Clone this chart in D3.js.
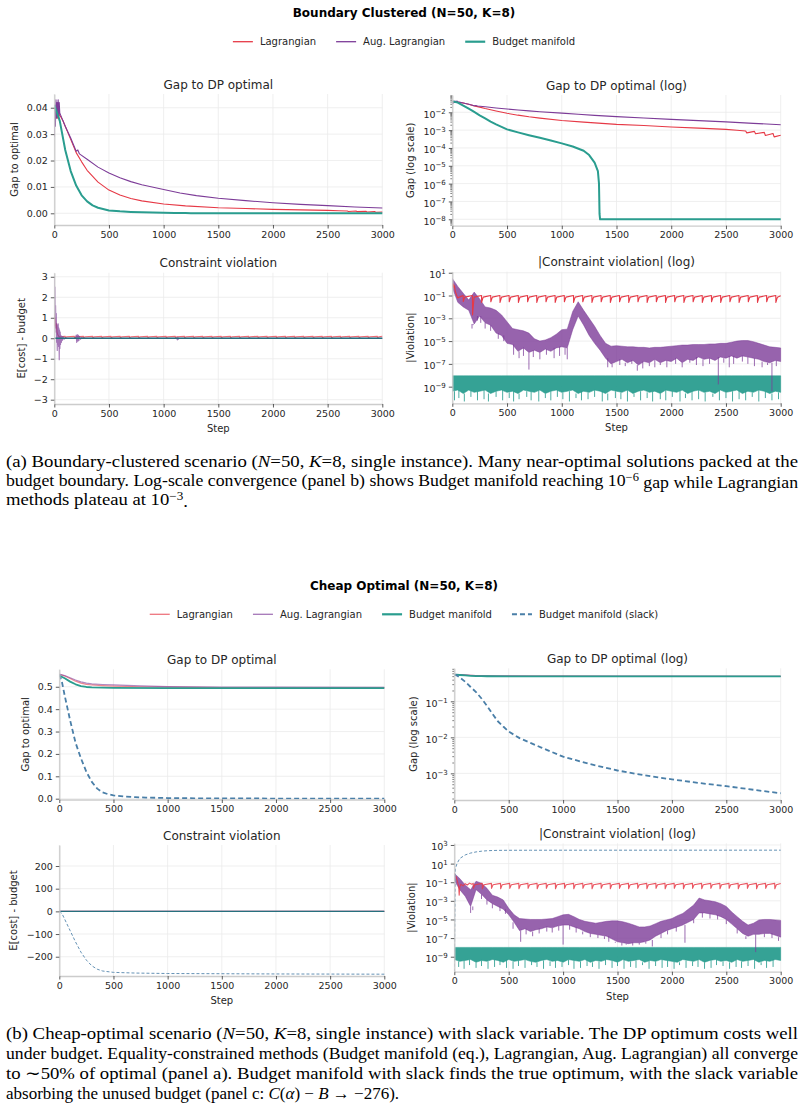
<!DOCTYPE html>
<html><head><meta charset="utf-8">
<script src="https://cdn.jsdelivr.net/npm/d3@7/dist/d3.min.js"></script>
<style>
html,body{margin:0;padding:0;background:#fff;}
svg{display:block;}
</style></head>
<body>
<svg id="chart" width="805" height="1110"></svg>
<script>
// ---------------- DATA ----------------
const xTicks = [0, 500, 1000, 1500, 2000, 2500, 3000];

// Figure 1: Boundary Clustered
const bcLagGapSteps = [0,10,20,30,40,50,60,80,100,150,200,250,300,400,500,600,700,800,1000,1200,1500,1750,2000,2250,2500,2600,2680,2690,2760,2770,2850,2860,2930,2940,3000];
const bcLagGap = [0.040,0.037,0.039,0.036,0.038,0.037,0.0365,0.035,0.033,0.028,0.023,0.0195,0.0163,0.0118,0.0088,0.0069,0.0056,0.0047,0.0035,0.0028,0.0021,0.0018,0.0015,0.0013,0.0011,0.00098,0.0009,0.0007,0.00085,0.00062,0.00075,0.0005,0.00065,0.00042,0.00052];
const bcAugGapSteps = [0,5,10,15,20,25,30,35,40,45,50,60,100,150,200,215,230,300,400,500,600,700,800,1000,1150,1300,1500,1750,2000,2250,2500,2750,3000];
const bcAugGap = [0.029,0.041,0.033,0.043,0.036,0.042,0.037,0.043,0.036,0.042,0.038,0.037,0.033,0.0285,0.0235,0.024,0.0225,0.0205,0.0175,0.0153,0.0135,0.012,0.0108,0.009,0.0077,0.0067,0.0057,0.0048,0.004,0.0034,0.0029,0.0024,0.002];
const bcBmGapSteps = [0,50,100,150,200,250,300,350,400,500,600,700,800,900,1000,1100,1200,1250,1300,1330,1340,1345,1350,3000];
const bcBmGap = [0.041,0.035,0.024,0.016,0.0105,0.0068,0.0045,0.003,0.0021,0.0011,0.00075,0.00052,0.00037,0.00026,0.00018,0.00012,0.00007,0.00004,0.000015,0.000005,0.000001,0.00000002,0.00000001,0.00000001];

const bcAugViolSteps = [0,3,6,9,12,15,18,21,24,27,30,33,36,39,42,45,48,51,54,57,60,65,70,75,80,90,100,120,195,200,205,210,215,220,225,230,240,250,270,1120,1125,1130,1135,1140,3000];
const bcAugViol = [3.0,1.0,2.5,0.5,1.6,0.3,1.2,-0.2,0.7,-0.6,0.6,-0.3,0.7,-0.4,0.5,-1.05,0.4,-0.5,0.3,-0.3,0.15,-0.2,0.1,-0.1,0.08,-0.05,0.02,0,0,0.15,-0.2,0.18,-0.15,0.15,-0.12,0.1,-0.05,0.03,0,0,-0.08,0.05,-0.05,0,0];
const bcBmViolSteps = [0, 3000];
const bcBmViol = [0, 0];

const bcLagViolEarlySteps = [0,5,10,15,20,25,30,40,50,60,75];
const bcLagViolEarly = [1.2,0.6,1.0,0.5,0.7,0.3,0.2,0.1,0.06,0.07,0.08];
const bcLagDips = [100,185,268,352,436,520,604,688,772,856,940,1024,1108,1192,1276,1360,1444,1528,1612,1696,1780,1864,1948,2032,2116,2200,2284,2368,2452,2536,2620,2704,2788,2872,2956];
const bcLagDipLow = [0.03,0.002,0.025,0.028,0.025,0.028,0.025,0.028,0.025,0.028,0.025,0.028,0.025,0.028,0.025,0.028,0.025,0.028,0.025,0.028,0.025,0.028,0.025,0.028,0.025,0.028,0.025,0.028,0.025,0.028,0.025,0.028,0.025,0.028,0.025];
const bcLagViolLevel = 0.1;

// |violation| bands, log10 values sampled every 50 steps (0..3000)
const bcAugViolHiLog = [0.5,-0.2,-0.8,-1.4,-0.7,-1.3,-2.0,-2.1,-2.3,-2.7,
  -3.3,-3.9,-4.0,-4.1,-4.3,-4.8,-5.0,-4.9,-4.7,-4.4,
  -4.0,-3.95,-2.4,-1.55,-2.3,-3.0,-3.7,-4.5,-5.2,-5.45,
  -5.4,-5.45,-5.5,-5.5,-5.55,-5.55,-5.6,-5.55,-5.55,-5.5,
  -5.45,-5.4,-5.35,-5.35,-5.3,-5.3,-5.3,-5.25,-5.25,-5.2,
  -5.2,-5.1,-5.0,-4.95,-4.95,-5.05,-5.2,-5.35,-5.5,-5.55,
  -5.6];
const bcAugViolLoLog = [-0.3,-1.6,-2.0,-2.3,-3.5,-2.8,-3.4,-3.6,-4.3,-4.5,
  -5.2,-5.3,-5.9,-5.6,-6.0,-5.8,-6.0,-5.7,-5.9,-5.6,
  -5.5,-5.6,-4.0,-2.8,-3.6,-4.5,-5.2,-5.8,-6.5,-7.0,
  -6.8,-6.6,-6.9,-6.7,-7.1,-6.8,-6.9,-6.6,-6.9,-6.7,
  -6.8,-6.5,-6.9,-6.6,-6.7,-6.4,-6.6,-6.5,-6.7,-6.4,
  -6.5,-6.3,-6.5,-6.3,-6.4,-6.5,-6.6,-6.8,-6.9,-6.7,
  -6.8];
const bcAugSpikeSteps = [180,190,230,260,300,350,420,470,560,610,650,700,740,800,860,930,980,1030,1050,1420,1460,1530,1580,1640,1690,1740,1800,1850,1900,1960,2040,2100,2170,2230,2290,2350,2430,2480,2530,2570,2650,2700,2760,2830,2880,2920,2960];
const bcAugSpikeLog = [-3.9,-3.6,-3.2,-3.4,-3.9,-4.1,-4.8,-5.0,-6.2,-6.5,-6.3,-7.5,-6.4,-6.6,-6.2,-6.5,-6.3,-6.2,-6.6,-7.3,-7.3,-7.1,-7.2,-7.0,-7.6,-7.4,-7.2,-7.3,-7.1,-7.3,-7.0,-7.3,-6.9,-7.1,-7.2,-7.0,-8.8,-6.9,-7.3,-7.0,-6.8,-7.0,-7.2,-7.3,-7.1,-9.4,-7.2];
const bcBmViolHiLog = -8.05;
const bcBmViolLoLog = [-9.4,-9.3,-9.6,-9.3,-9.5,-9.4,-9.3,-9.6,-9.4,-9.3,
  -9.5,-9.4,-9.6,-9.3,-9.4,-9.5,-9.3,-9.6,-9.4,-9.3,
  -9.5,-9.4,-9.3,-9.6,-9.4,-9.5,-9.3,-9.4,-9.6,-9.3,
  -9.4,-9.5,-9.3,-9.6,-9.4,-9.3,-9.5,-9.4,-9.6,-9.3,
  -9.4,-9.5,-9.3,-9.6,-9.4,-9.3,-9.5,-9.4,-9.6,-9.3,
  -9.5,-9.4,-9.3,-9.6,-9.4,-9.5,-9.3,-9.4,-9.6,-9.4,
  -9.5];
const bcBmSpikeSteps = [20,60,110,170,230,290,330,400,460,520,560,610,680,720,790,850,900,960,1010,1070,1130,1180,1240,1300,1370,1420,1490,1540,1600,1660,1720,1780,1830,1900,1950,2010,2080,2130,2190,2250,2310,2380,2440,2500,2560,2620,2680,2740,2800,2860,2920,2980];
const bcBmSpikeLog = [-10.2,-10.0,-10.3,-9.9,-10.2,-10.1,-10.3,-9.9,-10.2,-10.0,
  -10.3,-10.1,-9.9,-10.2,-10.3,-10.0,-10.2,-9.9,-10.1,-10.3,
  -10.0,-10.2,-10.1,-9.9,-10.3,-10.2,-10.0,-10.1,-10.3,-9.9,
  -10.2,-10.0,-10.3,-10.1,-10.2,-9.9,-10.3,-10.0,-10.2,-10.1,
  -10.3,-9.9,-10.2,-10.0,-10.3,-10.1,-10.2,-9.9,-10.3,-10.0,
  -10.2,-10.1];

// Figure 2: Cheap Optimal
const coGapSteps = [0,50,100,150,200,250,300,400,500,750,1000,1500,2000,3000];
const coLagGap = [0.555,0.548,0.537,0.525,0.516,0.511,0.508,0.505,0.503,0.5,0.498,0.496,0.495,0.495];
const coAugGap = [0.557,0.55,0.54,0.53,0.522,0.516,0.513,0.51,0.508,0.504,0.501,0.499,0.498,0.497];
const coBmGapSteps = [0,50,100,150,200,250,300,500,1000,3000];
const coBmGap = [0.55,0.538,0.523,0.511,0.503,0.499,0.497,0.495,0.494,0.494];
const coSlackGapSteps = [0,25,50,100,150,200,250,300,350,400,450,500,600,700,800,1000,1250,1500,1750,2000,2250,2500,2750,3000];
const coSlackGap = [0.555,0.52,0.46,0.35,0.25,0.18,0.12,0.075,0.045,0.028,0.02,0.0145,0.0095,0.007,0.0052,0.0029,0.0018,0.0012,0.00088,0.00068,0.00054,0.00044,0.00035,0.00028];

const coEqViolSteps = [0, 3000];
const coLagViol = [0, 0];
const coAugViol = [0, 0];
const coBmViol = [0, 0];
const coSlackViolSteps = [0,10,25,50,100,150,200,250,300,350,400,500,700,1000,2000,3000];
const coSlackViol = [0,-3,-10,-35,-85,-135,-180,-215,-240,-255,-263,-269,-272,-274,-276,-277];

const coLagViolEarlySteps = [0,10,20,30,40,45,50,60,80,100,120,140,160];
const coLagViolEarly = [0.9,0.5,0.3,0.1,0.04,0.004,0.03,0.06,0.04,0.07,0.05,0.08,0.06];
const coLagDips = [175,258,342,426,510,594,678,762,846,930,1014,1098,1182,1266,1350,1434,1518,1602,1686,1770,1854,1938,2022,2106,2190,2274,2358,2442,2526,2610,2694,2778,2862,2946];
const coLagDipLow = [0.022,0.02,0.022,0.02,0.022,0.02,0.022,0.02,0.022,0.02,0.022,0.02,0.022,0.02,0.022,0.02,0.022,0.02,0.022,0.02,0.022,0.02,0.022,0.02,0.022,0.02,0.022,0.02,0.022,0.02,0.022,0.02,0.022,0.02];
const coLagViolLevel = 0.075;

const coAugViolHiLog = [-0.05,-0.6,-1.3,-1.8,-0.9,-1.1,-1.65,-2.4,-2.6,-2.9,
  -3.8,-4.5,-4.9,-4.95,-5.0,-5.0,-5.0,-4.95,-4.9,-4.7,
  -4.5,-4.45,-4.7,-5.0,-5.2,-5.3,-5.4,-5.3,-5.2,-5.15,
  -5.15,-5.25,-5.4,-5.6,-5.8,-5.8,-5.7,-5.45,-5.2,-5.05,
  -4.9,-4.6,-4.35,-3.9,-3.45,-2.7,-2.9,-3.0,-3.1,-3.3,
  -3.6,-4.2,-4.7,-5.2,-5.6,-5.4,-5.05,-5.0,-5.0,-5.05,
  -5.1];
const coAugViolLoLog = [-0.8,-1.8,-2.5,-3.6,-1.8,-2.3,-2.9,-3.3,-3.6,-3.9,
  -4.5,-5.3,-6.2,-6.0,-6.3,-6.1,-6.0,-5.8,-5.9,-5.7,
  -5.6,-5.6,-5.8,-6.0,-6.3,-6.5,-6.6,-6.7,-6.8,-7.1,
  -7.4,-7.5,-7.6,-7.5,-7.5,-7.4,-7.2,-6.8,-6.5,-6.2,
  -6.0,-5.8,-5.6,-5.3,-5.0,-4.3,-4.3,-4.4,-4.5,-4.7,
  -5.0,-5.5,-6.0,-6.5,-6.8,-6.6,-6.6,-6.5,-6.5,-6.7,
  -6.9];
const coAugSpikeSteps = [150,170,250,300,350,420,470,540,610,660,720,780,850,900,960,1000,1060,1120,1180,1250,1320,1380,1420,1480,1540,1580,1640,1700,1760,1820,1900,1960,2040,2120,2200,2280,2350,2420,2500,2600,2680,2770,2850,2920,2980];
const coAugSpikeLog = [-4.3,-4.0,-2.8,-3.4,-3.8,-4.1,-4.4,-6.0,-7.4,-6.6,-6.8,-6.5,-6.3,-6.4,-6.2,-7.7,-6.1,-6.4,-6.6,-6.9,-7.0,-7.1,-7.4,-7.5,-7.8,-7.7,-7.8,-7.7,-7.6,-7.9,-7.0,-6.6,-6.3,-7.5,-5.4,-4.8,-4.9,-5.0,-5.5,-6.5,-7.1,-8.5,-6.9,-7.0,-7.3];
const coBmViolHiLog = -8.0;
const coBmViolLoLog = [-9.3,-9.5,-9.4,-9.3,-9.6,-9.4,-9.5,-9.3,-9.4,-9.6,
  -9.3,-9.5,-9.4,-9.3,-9.5,-9.6,-9.4,-9.3,-9.5,-9.4,
  -9.6,-9.3,-9.4,-9.5,-9.3,-9.6,-9.4,-9.5,-9.3,-9.4,
  -9.6,-9.3,-9.5,-9.4,-9.3,-9.6,-9.4,-9.5,-9.3,-9.4,
  -9.5,-9.6,-9.3,-9.4,-9.5,-9.3,-9.6,-9.4,-9.3,-9.5,
  -9.4,-9.6,-9.3,-9.5,-9.4,-9.3,-9.6,-9.4,-9.5,-9.3,
  -9.4];
const coBmSpikeSteps = [40,90,140,200,250,310,370,420,480,540,590,650,710,760,820,880,930,990,1050,1100,1160,1220,1270,1330,1390,1450,1500,1560,1620,1670,1730,1790,1850,1910,1960,2020,2070,2130,2190,2240,2300,2360,2410,2470,2530,2590,2640,2700,2760,2820,2870,2930];
const coBmSpikeLog = [-10.1,-10.3,-9.9,-10.2,-10.0,-10.3,-10.1,-9.9,-10.2,-10.3,
  -10.0,-10.2,-9.9,-10.1,-10.3,-10.0,-10.2,-10.1,-9.9,-10.3,
  -10.2,-10.0,-10.1,-10.3,-9.9,-10.2,-10.0,-10.3,-10.1,-10.2,
  -9.9,-10.3,-10.0,-10.2,-10.1,-10.3,-9.9,-10.2,-10.0,-10.1,
  -10.3,-10.2,-9.9,-10.0,-10.3,-10.1,-10.2,-10.0,-10.3,-9.9,
  -10.2,-10.1];

const fig1Title = "Boundary Clustered (N=50, K=8)";
const fig2Title = "Cheap Optimal (N=50, K=8)";
const fig1Legend = ["Lagrangian", "Aug. Lagrangian", "Budget manifold"];
const fig2Legend = ["Lagrangian", "Aug. Lagrangian", "Budget manifold", "Budget manifold (slack)"];

// ---------------- STYLE ----------------
const LAG = "#e63946", AUG = "#7d3c98", BM = "#2a9d8f", SLACK = "#4a7fa8";
const FONT = "'DejaVu Sans', sans-serif";
const SERIF = "'Liberation Serif', 'Times New Roman', serif";
const MINUS = "\u2212";
const svg = d3.select("#chart");
const defs = svg.append("defs");
let clipN = 0;
const bandSteps = d3.range(0, 3001, 50);

function pts(steps, vals) { return steps.map((s, i) => ({ s, v: vals[i] })); }
function signed(fmt) { return d => (d < 0 ? MINUS : "") + d3.format(fmt)(Math.abs(d)); }

function makePanel(o) {
  const x = d3.scaleLinear().domain([0, 3000]).range([o.x0, o.x1]);
  const y = (o.log ? d3.scaleLog() : d3.scaleLinear()).domain(o.domain).range([o.y1, o.y0]);
  if (o.log) y.clamp(true);
  const g = svg.append("g");
  g.append("g").selectAll("line").data(xTicks).join("line")
    .attr("x1", d => x(d)).attr("x2", d => x(d)).attr("y1", o.y0).attr("y2", o.y1)
    .attr("stroke", "#ebebeb").attr("stroke-width", 0.8);
  g.append("g").selectAll("line").data(o.yTicks).join("line")
    .attr("x1", o.x0).attr("x2", o.x1).attr("y1", d => y(d)).attr("y2", d => y(d))
    .attr("stroke", "#ebebeb").attr("stroke-width", 0.8);
  const id = "clip" + (clipN++);
  defs.append("clipPath").attr("id", id).append("rect")
    .attr("x", o.x0).attr("y", o.y0 - 1).attr("width", o.x1 - o.x0 + 1).attr("height", o.y1 - o.y0 + 1);
  const plot = g.append("g").attr("clip-path", `url(#${id})`);
  return { x, y, g, plot, o };
}

function finishPanel(p) {
  const { x, y, g, o } = p;
  if (o.minor) {
    g.append("g").attr("transform", `translate(${o.x0},0)`)
      .call(d3.axisLeft(y).tickValues(o.minor).tickFormat("").tickSize(2).tickSizeOuter(0))
      .call(a => { a.select(".domain").remove(); a.selectAll(".tick line").attr("stroke", "#333").attr("stroke-width", 0.6); });
  }
  const xa = g.append("g").attr("transform", `translate(0,${o.y1})`)
    .call(d3.axisBottom(x).tickValues(xTicks).tickFormat(d3.format("d")).tickSize(3.5).tickSizeOuter(0).tickPadding(2.5));
  const ya = g.append("g").attr("transform", `translate(${o.x0},0)`)
    .call(d3.axisLeft(y).tickValues(o.yTicks).tickFormat(o.fmt || (() => "")).tickSize(3.5).tickSizeOuter(0).tickPadding(3));
  [xa, ya].forEach(a => {
    a.select(".domain").attr("stroke", "#cccccc").attr("stroke-width", 1.3);
    a.selectAll(".tick line").attr("stroke", "#333").attr("stroke-width", 0.8);
    a.selectAll(".tick text").attr("fill", "#262626").style("font-size", "9.5px").style("font-family", FONT);
  });
  if (o.log) {
    ya.selectAll(".tick text").each(function (d) {
      const t = d3.select(this); t.text("").attr("dy", "0.5em");
      const e = Math.round(Math.log10(d));
      t.append("tspan").text("10");
      t.append("tspan").attr("dy", "-0.55em").style("font-size", "7px").text(e < 0 ? MINUS + (-e) : String(e));
    });
  }
  g.append("text").attr("x", (o.x0 + o.x1) / 2).attr("y", o.y0 - 5.5).attr("text-anchor", "middle")
    .style("font-family", FONT).style("font-size", "12px").attr("fill", "#262626").text(o.title);
  const cy = (o.y0 + o.y1) / 2;
  g.append("text").attr("transform", `translate(${o.x0 - o.ylOff},${cy}) rotate(-90)`).attr("text-anchor", "middle")
    .style("font-family", FONT).style("font-size", "10px").attr("fill", "#262626").text(o.ylabel);
  if (o.xlabel) {
    g.append("text").attr("x", (o.x0 + o.x1) / 2).attr("y", o.y1 + 28).attr("text-anchor", "middle")
      .style("font-family", FONT).style("font-size", "10px").attr("fill", "#262626").text(o.xlabel);
  }
}

function drawLine(p, data, color, width, opt = {}) {
  const line = d3.line().x(d => p.x(d.s)).y(d => p.y(opt.abs ? Math.max(Math.abs(d.v), 1e-12) : d.v));
  p.plot.append("path").datum(data).attr("d", line).attr("fill", "none")
    .attr("stroke", color).attr("stroke-width", width).attr("stroke-opacity", opt.opacity ?? 1)
    .attr("stroke-dasharray", opt.dash || null).attr("stroke-linejoin", "round");
}

function drawBand(p, hiLog, loLog, color, opacity) {
  const data = bandSteps.map((s, i) => ({
    s, hi: Math.pow(10, Array.isArray(hiLog) ? hiLog[i] : hiLog), lo: Math.pow(10, loLog[i])
  }));
  const area = d3.area().x(d => p.x(d.s)).y0(d => p.y(d.lo)).y1(d => p.y(d.hi));
  p.plot.append("path").datum(data).attr("d", area).attr("fill", color).attr("fill-opacity", opacity)
    .attr("stroke", color).attr("stroke-width", 0.6).attr("stroke-opacity", opacity);
}

function drawSpikes(p, steps, vals, fromLog, color, opacity, w) {
  p.plot.append("g").selectAll("line").data(steps.map((s, i) => ({ s, v: Math.pow(10, vals[i]), i: Math.round(s / 50) })))
    .join("line")
    .attr("x1", d => p.x(d.s)).attr("x2", d => p.x(d.s))
    .attr("y1", d => p.y(Math.pow(10, Array.isArray(fromLog) ? fromLog[d.i] : fromLog)))
    .attr("y2", d => p.y(d.v))
    .attr("stroke", color).attr("stroke-width", w || 1.1).attr("stroke-opacity", opacity);
}

function sawtooth(earlySteps, earlyVals, dips, lows, level) {
  const out = pts(earlySteps, earlyVals);
  dips.forEach((d, i) => {
    out.push({ s: d - 1, v: level });
    out.push({ s: d, v: lows[i] });
    out.push({ s: d + 14, v: level * 0.72 });
  });
  out.push({ s: 3000, v: level * 0.95 });
  return out;
}

function minorTicks(lo, hi, dom) {
  const out = [];
  for (let k = lo; k <= hi; k++) for (let m = 2; m <= 9; m++) {
    const v = m * Math.pow(10, k);
    if (v >= dom[0] && v <= dom[1]) out.push(v);
  }
  return out;
}

function legend(y, labels, styles) {
  const g = svg.append("g");
  let cx = 0;
  labels.forEach((lab, i) => {
    const st = styles[i];
    g.append("line").attr("x1", cx).attr("x2", cx + 20).attr("y1", y).attr("y2", y)
      .attr("stroke", st.color).attr("stroke-width", st.w).attr("stroke-opacity", st.op ?? 1)
      .attr("stroke-dasharray", st.dash || null);
    const t = g.append("text").attr("x", cx + 27).attr("y", y + 3.6)
      .style("font-family", FONT).style("font-size", "10px").attr("fill", "#262626").text(lab);
    cx += 27 + t.node().getComputedTextLength() + 20;
  });
  const total = cx - 20;
  g.attr("transform", `translate(${404 - total / 2},0)`);
}

function suptitle(y, txt) {
  svg.append("text").attr("x", 404).attr("y", y).attr("text-anchor", "middle")
    .style("font-family", FONT).style("font-size", "12px").style("font-weight", "bold").attr("fill", "#000").text(txt);
}

function caption(y, parts, width) {
  const t = svg.append("text").attr("x", 6).attr("y", y)
    .style("font-family", SERIF).style("font-size", "17px").attr("fill", "#000");
  let prevSup = false;
  parts.forEach(p => {
    const part = typeof p === "string" ? { t: p } : p;
    const ts = t.append("tspan").text(part.t);
    if (part.i) ts.style("font-style", "italic");
    if (part.sup) { ts.attr("dy", "-0.42em").style("font-size", "12px"); }
    else if (prevSup) ts.attr("dy", "0.42em");
    prevSup = !!part.sup;
  });
  if (width) t.attr("textLength", width).attr("lengthAdjust", "spacingAndGlyphs");
}

// ---------------- FIGURE 1 ----------------
suptitle(16.5, fig1Title);
legend(41.7, fig1Legend, [{ color: LAG, w: 1.3 }, { color: AUG, w: 1.3 }, { color: BM, w: 2.2 }]);

const p1a = makePanel({ x0: 54.3, x1: 382.3, y0: 94, y1: 225, domain: [-0.00443, 0.0452],
  yTicks: [0, 0.01, 0.02, 0.03, 0.04], fmt: signed(".2f"), title: "Gap to DP optimal", ylabel: "Gap to optimal", ylOff: 36 });
drawLine(p1a, pts(bcLagGapSteps, bcLagGap), LAG, 1.1);
drawLine(p1a, pts(bcAugGapSteps, bcAugGap), AUG, 1.1);
drawLine(p1a, pts(bcBmGapSteps, bcBmGap), BM, 2);
finishPanel(p1a);

const d1b = [Math.pow(10, -8.36), Math.pow(10, -1.03)];
const p1b = makePanel({ x0: 452.3, x1: 780.7, y0: 95, y1: 225.7, log: true, domain: d1b,
  yTicks: [1e-8, 1e-7, 1e-6, 1e-5, 1e-4, 1e-3, 1e-2], minor: minorTicks(-9, -2, d1b),
  title: "Gap to DP optimal (log)", ylabel: "Gap (log scale)", ylOff: 38 });
drawLine(p1b, pts(bcLagGapSteps, bcLagGap), LAG, 1.1);
drawLine(p1b, pts(bcAugGapSteps, bcAugGap), AUG, 1.1);
drawLine(p1b, pts(bcBmGapSteps, bcBmGap), BM, 2);
finishPanel(p1b);

const bcLagViolSeries = sawtooth(bcLagViolEarlySteps, bcLagViolEarly, bcLagDips, bcLagDipLow, bcLagViolLevel);

const p1c = makePanel({ x0: 54.3, x1: 382.3, y0: 272.7, y1: 404, domain: [-3.21, 3.2],
  yTicks: [-3, -2, -1, 0, 1, 2, 3], fmt: signed("d"), title: "Constraint violation",
  ylabel: "E[cost] - budget", ylOff: 29, xlabel: "Step" });
drawLine(p1c, bcLagViolSeries, LAG, 1.1, { opacity: 0.75 });
drawLine(p1c, pts(bcAugViolSteps, bcAugViol), AUG, 1.1, { opacity: 0.7 });
drawLine(p1c, pts(bcBmViolSteps, bcBmViol), "#27707e", 1.6);
finishPanel(p1c);

const d1d = [Math.pow(10, -10.46), Math.pow(10, 1.09)];
const p1d = makePanel({ x0: 452.3, x1: 780.7, y0: 271.7, y1: 403.3, log: true, domain: d1d,
  yTicks: [1e1, 1e-1, 1e-3, 1e-5, 1e-7, 1e-9], title: "|Constraint violation| (log)",
  ylabel: "|Violation|", ylOff: 38, xlabel: "Step" });
drawBand(p1d, bcBmViolHiLog, bcBmViolLoLog, BM, 0.95);
drawSpikes(p1d, bcBmSpikeSteps, bcBmSpikeLog, bcBmViolLoLog, BM, 0.95, 0.9);
drawBand(p1d, bcAugViolHiLog, bcAugViolLoLog, AUG, 0.8);
drawSpikes(p1d, bcAugSpikeSteps, bcAugSpikeLog, bcAugViolLoLog, AUG, 0.85, 0.9);
drawLine(p1d, bcLagViolSeries, LAG, 1.1, { abs: true });
finishPanel(p1d);

caption(466.5, ["(a) Boundary-clustered scenario (", { t: "N", i: 1 }, "=50, ", { t: "K", i: 1 },
  "=8, single instance). Many near-optimal solutions packed at the"], 792);
caption(486, ["budget boundary. Log-scale convergence (panel b) shows Budget manifold reaching 10",
  { t: MINUS + "6", sup: 1 }, " gap while Lagrangian"], 792);
caption(505.3, ["methods plateau at 10", { t: MINUS + "3", sup: 1 }, "."], 182);

// ---------------- FIGURE 2 ----------------
suptitle(589.5, fig2Title);
legend(614.3, fig2Legend, [{ color: LAG, w: 1.3, op: 0.7 }, { color: AUG, w: 1.3, op: 0.7 },
  { color: BM, w: 2.2 }, { color: SLACK, w: 2, dash: "5,3" }]);

const p2a = makePanel({ x0: 59.3, x1: 384.3, y0: 669.3, y1: 799.5, domain: [-0.0036, 0.578],
  yTicks: [0, 0.1, 0.2, 0.3, 0.4, 0.5], fmt: signed(".1f"), title: "Gap to DP optimal",
  ylabel: "Gap to optimal", ylOff: 30 });
drawLine(p2a, pts(coGapSteps, coLagGap), LAG, 1.2, { opacity: 0.6 });
drawLine(p2a, pts(coGapSteps, coAugGap), AUG, 1.2, { opacity: 0.6 });
drawLine(p2a, pts(coBmGapSteps, coBmGap), BM, 1.8);
drawLine(p2a, pts(coSlackGapSteps, coSlackGap), SLACK, 1.8, { dash: "5,3" });
finishPanel(p2a);

const d2b = [Math.pow(10, -3.74), Math.pow(10, -0.083)];
const p2b = makePanel({ x0: 454.3, x1: 780.7, y0: 668.3, y1: 800, log: true, domain: d2b,
  yTicks: [1e-3, 1e-2, 1e-1], minor: minorTicks(-4, -1, d2b),
  title: "Gap to DP optimal (log)", ylabel: "Gap (log scale)", ylOff: 37 });
drawLine(p2b, pts(coGapSteps, coLagGap), LAG, 1.2, { opacity: 0.6 });
drawLine(p2b, pts(coGapSteps, coAugGap), AUG, 1.2, { opacity: 0.6 });
drawLine(p2b, pts(coBmGapSteps, coBmGap), BM, 1.8);
drawLine(p2b, pts(coSlackGapSteps, coSlackGap), SLACK, 1.8, { dash: "5,3" });
finishPanel(p2b);

const p2c = makePanel({ x0: 59.3, x1: 384.3, y0: 845, y1: 976, domain: [-285, 292.6],
  yTicks: [-200, -100, 0, 100, 200], fmt: signed("d"), title: "Constraint violation",
  ylabel: "E[cost] - budget", ylOff: 42, xlabel: "Step" });
drawLine(p2c, pts(coEqViolSteps, coLagViol), LAG, 1.1, { opacity: 0.6 });
drawLine(p2c, pts(coEqViolSteps, coAugViol), AUG, 1.1, { opacity: 0.6 });
drawLine(p2c, pts(coEqViolSteps, coBmViol), "#27707e", 1.3);
drawLine(p2c, pts(coSlackViolSteps, coSlackViol), SLACK, 1, { dash: "3,2", opacity: 0.85 });
finishPanel(p2c);

const coLagViolSeries = sawtooth(coLagViolEarlySteps, coLagViolEarly, coLagDips, coLagDipLow, coLagViolLevel);
const d2d = [Math.pow(10, -10.61), Math.pow(10, 3.18)];
const p2d = makePanel({ x0: 454.3, x1: 780.7, y0: 843.3, y1: 971.7, log: true, domain: d2d,
  yTicks: [1e3, 1e1, 1e-1, 1e-3, 1e-5, 1e-7, 1e-9], title: "|Constraint violation| (log)",
  ylabel: "|Violation|", ylOff: 39, xlabel: "Step" });
drawBand(p2d, coBmViolHiLog, coBmViolLoLog, BM, 0.95);
drawSpikes(p2d, coBmSpikeSteps, coBmSpikeLog, coBmViolLoLog, BM, 0.95, 0.9);
drawBand(p2d, coAugViolHiLog, coAugViolLoLog, AUG, 0.8);
drawSpikes(p2d, coAugSpikeSteps, coAugSpikeLog, coAugViolLoLog, AUG, 0.85, 0.9);
drawLine(p2d, coLagViolSeries, LAG, 1.1, { abs: true, opacity: 0.85 });
drawLine(p2d, pts(coSlackViolSteps, coSlackViol), SLACK, 1, { abs: true, dash: "3,2", opacity: 0.85 });
finishPanel(p2d);

caption(1039.3, ["(b) Cheap-optimal scenario (", { t: "N", i: 1 }, "=50, ", { t: "K", i: 1 },
  "=8, single instance) with slack variable. The DP optimum costs well"], 792);
caption(1059.3, ["under budget. Equality-constrained methods (Budget manifold (eq.), Lagrangian, Aug. Lagrangian) all converge"], 792);
caption(1078.7, ["to \u223C50% of optimal (panel a). Budget manifold with slack finds the true optimum, with the slack variable"], 792);
caption(1098.7, ["absorbing the unused budget (panel c: ", { t: "C", i: 1 }, "(", { t: "\u03B1", i: 1 }, ") " + MINUS + " ",
  { t: "B", i: 1 }, " \u2192 " + MINUS + "276)."], null);
</script>
</body></html>
